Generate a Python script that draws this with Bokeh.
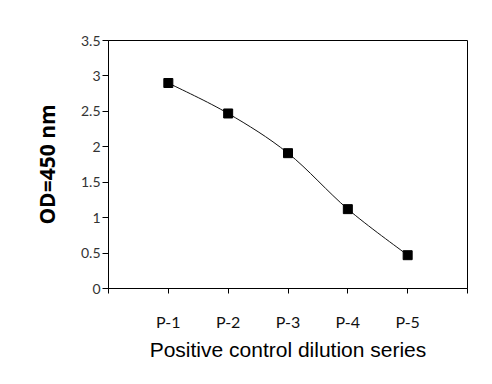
from bokeh.plotting import figure
from bokeh.models import FixedTicker, Range1d
from bokeh.embed import file_html
from bokeh.resources import INLINE

categories = ["P-1", "P-2", "P-3", "P-4", "P-5"]
od_values = [2.90, 2.47, 1.91, 1.12, 0.47]
y_ticks = [0, 0.5, 1, 1.5, 2, 2.5, 3, 3.5]
y_tick_labels = ["0", "0.5", "1", "1.5", "2", "2.5", "3", "3.5"]

xs = list(range(1, len(categories) + 1))

p = figure(frame_width=359, frame_height=248, output_backend="svg",
           toolbar_location=None, x_range=Range1d(0, len(categories) + 1),
           y_range=Range1d(0, 3.5))
p.min_border_left = 108
p.min_border_top = 40
p.min_border_right = 17
p.min_border_bottom = 88
p.background_fill_color = "white"
p.border_fill_color = "white"
p.outline_line_color = "black"
p.outline_line_width = 1
p.xgrid.visible = False
p.ygrid.visible = False

# smoothed line (Excel-like) built from the data points
n = len(xs)
x0s, y0s, x1s, y1s, cx0s, cy0s, cx1s, cy1s = [], [], [], [], [], [], [], []
for i in range(n - 1):
    xm, ym = (xs[i - 1], od_values[i - 1]) if i > 0 else (xs[i], od_values[i])
    xp2, yp2 = (xs[i + 2], od_values[i + 2]) if i + 2 < n else (xs[i + 1], od_values[i + 1])
    x0s.append(xs[i]); y0s.append(od_values[i])
    x1s.append(xs[i + 1]); y1s.append(od_values[i + 1])
    cx0s.append(xs[i] + (xs[i + 1] - xm) / 6); cy0s.append(od_values[i] + (od_values[i + 1] - ym) / 6)
    cx1s.append(xs[i + 1] - (xp2 - xs[i]) / 6); cy1s.append(od_values[i + 1] - (yp2 - od_values[i]) / 6)
p.bezier(x0=x0s, y0=y0s, x1=x1s, y1=y1s, cx0=cx0s, cy0=cy0s, cx1=cx1s, cy1=cy1s,
         line_color="#111111", line_width=1)
p.scatter(xs, od_values, marker="square", size=9, fill_color="black", line_color="black")

# x axis
p.xaxis.ticker = FixedTicker(ticks=list(range(0, n + 2)))
xo = {0: "", n + 1: ""}
for i, c in enumerate(categories):
    xo[i + 1] = c
p.xaxis.major_label_overrides = xo
p.xaxis.minor_tick_line_color = None
p.xaxis.major_tick_in = 0
p.xaxis.major_tick_out = 5
p.xaxis.major_label_standoff = 18
p.xaxis.major_label_text_font = "Lato"
p.xaxis.major_label_text_font_size = "16px"
p.xaxis.major_label_text_color = "#111111"
p.xaxis.axis_label = "Positive control dilution series"
p.xaxis.axis_label_text_font = "Liberation Sans"
p.xaxis.axis_label_text_font_style = "normal"
p.xaxis.axis_label_text_font_size = "21px"
p.xaxis.axis_label_text_color = "black"
p.xaxis.axis_label_standoff = 4

# y axis
p.yaxis.ticker = FixedTicker(ticks=y_ticks)
p.yaxis.major_label_overrides = {t: l for t, l in zip(y_ticks, y_tick_labels)}
p.yaxis.minor_tick_line_color = None
p.yaxis.major_tick_in = 0
p.yaxis.major_tick_out = 6
p.yaxis.major_label_standoff = 2
p.yaxis.major_label_text_font = "Lato"
p.yaxis.major_label_text_font_size = "14px"
p.yaxis.major_label_text_color = "#333333"
p.yaxis.axis_label = "OD=450 nm"
p.yaxis.axis_label_text_font = "Open Sans"
p.yaxis.axis_label_text_font_style = "bold"
p.yaxis.axis_label_text_font_size = "21px"
p.yaxis.axis_label_text_color = "black"
p.yaxis.axis_label_standoff = 17

for ax in (p.xaxis, p.yaxis):
    ax.axis_line_color = "black"
    ax.axis_line_width = 1
    ax.major_tick_line_color = "black"

open("out.html", "w").write(file_html(p, INLINE))
